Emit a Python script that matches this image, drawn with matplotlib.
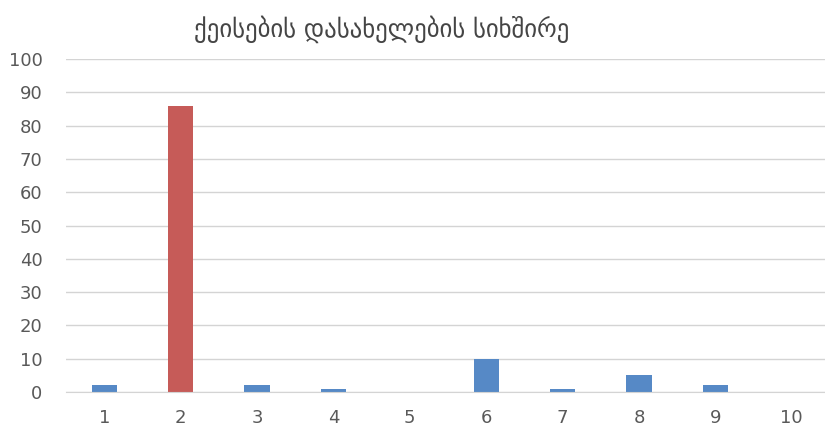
import matplotlib
matplotlib.use("Agg")
import matplotlib.pyplot as plt

categories = ["1", "2", "3", "4", "5", "6", "7", "8", "9", "10"]
values = [2, 86, 2, 1, 0, 10, 1, 5, 2, 0]
title = "ქეისების დასახელების სიხშირე"

blue = "#5689c6"
red = "#c65b58"
colors = [red if v == max(values) else blue for v in values]

fig = plt.figure(figsize=(8.25, 4.33), dpi=100)
ax = fig.add_axes([0.08, 0.0947, 0.926, 0.769])

x = range(len(categories))
ax.bar(x, values, width=0.33, color=colors, zorder=3)

ax.set_xlim(-0.5, len(categories) - 0.5)
ax.set_ylim(0, 100)
ax.set_yticks(range(0, 101, 10))
ax.set_xticks(list(x))
ax.set_xticklabels(categories)

ax.grid(axis="y", color="#d4d4d4", linewidth=1, zorder=0)
for s in ["top", "right", "left"]:
    ax.spines[s].set_visible(False)
ax.spines["bottom"].set_color("#d4d4d4")
ax.spines["bottom"].set_zorder(4)
ax.tick_params(length=0, labelsize=13, colors="#595959")
ax.tick_params(axis="x", pad=12)
ax.tick_params(axis="y", pad=17)

fig.text(0.463, 0.933, title, ha="center", va="center", fontsize=17.8,
         color="#454545", family=["DejaVu Sans"])

fig.savefig("out.png", dpi=100)
